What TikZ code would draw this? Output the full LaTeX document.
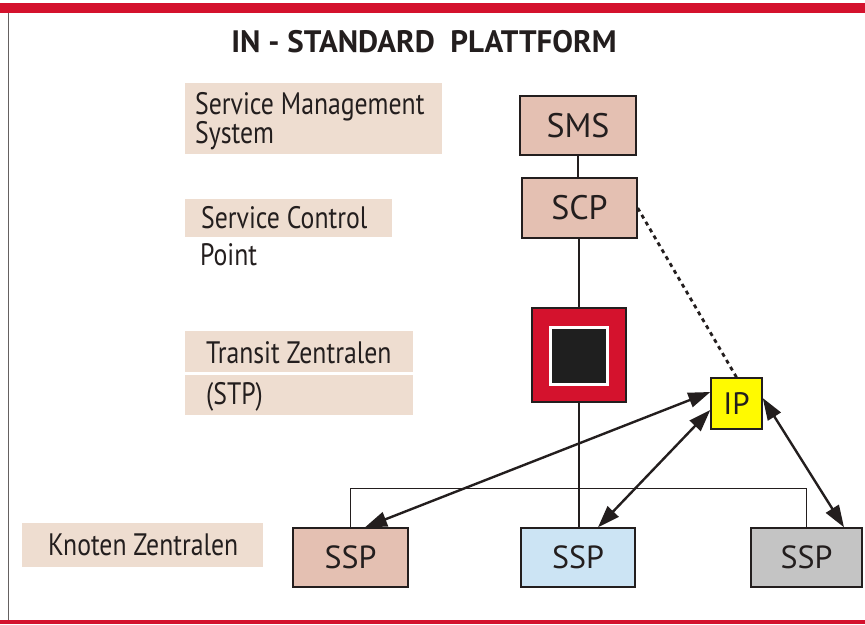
\documentclass[tikz,border=0pt]{standalone}
\usepackage{fontspec}
\setmainfont{PT Sans}
\newfontfamily\labfont[FakeStretch=0.83]{PT Sans}
\usetikzlibrary{arrows.meta}
\definecolor{band}{RGB}{212,18,45}
\definecolor{labbg}{RGB}{238,221,208}
\definecolor{boxfill}{RGB}{228,192,178}
\definecolor{sspblue}{RGB}{204,228,244}
\definecolor{sspgray}{RGB}{196,196,196}
\definecolor{ipyellow}{RGB}{255,250,0}
\definecolor{ink}{RGB}{35,30,30}
\begin{document}
\begin{tikzpicture}[x=1pt,y=-1pt,
  labbox/.style={fill=labbg},
  labtext/.style={anchor=base west,inner sep=0,text=ink,font=\labfont\fontsize{31}{33}\selectfont},
  netbox/.style={draw=ink,line width=1.4pt,inner sep=0,text=ink,font=\fontsize{34}{36}\selectfont},
  sspbox/.style={netbox,minimum height=59pt,font=\fontsize{32}{34}\selectfont},
  conn/.style={draw=ink,line width=1.4pt},
  biarrow/.style={draw=ink,line width=2.4pt,{Triangle[length=22pt,width=15pt]}-{Triangle[length=22pt,width=15pt]}},
  dotline/.style={draw=ink,line width=2.8pt,dash pattern=on 4pt off 4pt}]
\useasboundingbox (0,0) rectangle (865,624);
% frame
\fill[band] (0,3) rectangle (865,13);
\fill[band] (0,620) rectangle (865,624);
\draw[draw=ink!70,line width=1pt] (8,13) -- (8,620);
% title
\node[anchor=center,inner sep=0,text=ink,font=\bfseries\fontsize{31}{33}\selectfont] (title) at (424,42) {IN - STANDARD\ \ PLATTFORM};
% label backgrounds
\fill[labbox] (185,83) rectangle (442,154);
\fill[labbox] (185,199) rectangle (392,237);
\fill[labbox] (185,331) rectangle (413,372);
\fill[labbox] (185,375) rectangle (413,415);
\fill[labbox] (22,523) rectangle (263,567);
% labels
\node[labtext] (lsm1) at (195,114) {Service Management};
\node[labtext] (lsm2) at (195,143) {System};
\node[labtext] (lsc1) at (201,228) {Service Control};
\node[labtext] (lsc2) at (200,265) {Point};
\node[labtext] (ltz1) at (206,363) {Transit Zentralen};
\node[labtext] (ltz2) at (206,404) {(STP)};
\node[labtext] (lkz) at (48,555) {Knoten Zentralen};
% network boxes
\node[netbox,fill=boxfill,minimum width=116pt,minimum height=59pt] (SMS) at (578,125.5) {SMS};
\node[netbox,fill=boxfill,minimum width=115pt,minimum height=60pt] (SCP) at (579.5,208) {SCP};
\node[draw=ink,line width=1.2pt,fill=band,minimum width=94pt,minimum height=94pt,inner sep=0] (STP) at (579,355) {};
\node[fill=white,minimum width=60pt,minimum height=60pt,inner sep=0] (STPw) at (579,356) {};
\node[fill=black!88,minimum width=54pt,minimum height=54pt,inner sep=0] (STPb) at (579,356) {};
\node[netbox,fill=ipyellow,minimum width=51pt,minimum height=51pt,font=\fontsize{31}{33}\selectfont] (IP) at (736.5,403.5) {IP};
\node[sspbox,fill=boxfill,minimum width=115pt] (SSP1) at (350.5,557.5) {SSP};
\node[sspbox,fill=sspblue,minimum width=114pt] (SSP2) at (578,557.5) {SSP};
\node[sspbox,fill=sspgray,minimum width=111pt] (SSP3) at (806.5,557.5) {SSP};
% connectors
\draw[conn] (SMS.south) -- (SCP.north -| SMS.south);
\draw[conn] (SCP.south -| STP.north) -- (STP.north);
\draw[conn] (STP.south) -- (SSP2.north -| STP.south);
\draw[conn] (SSP1.north) -- ++(0,-39) coordinate (busL) -| (SSP3.north);
\draw[dotline] (SCP.east) -- (IP.north);
\draw[biarrow] ([yshift=11.5pt]IP.west) -- ([xshift=14.5pt]SSP1.north);
\draw[biarrow] ([yshift=-6.5pt]IP.west) -- ([xshift=20pt]SSP2.north);
\draw[biarrow] ([yshift=5.5pt]IP.east) -- ([xshift=37.5pt]SSP3.north);
\end{tikzpicture}
\end{document}
